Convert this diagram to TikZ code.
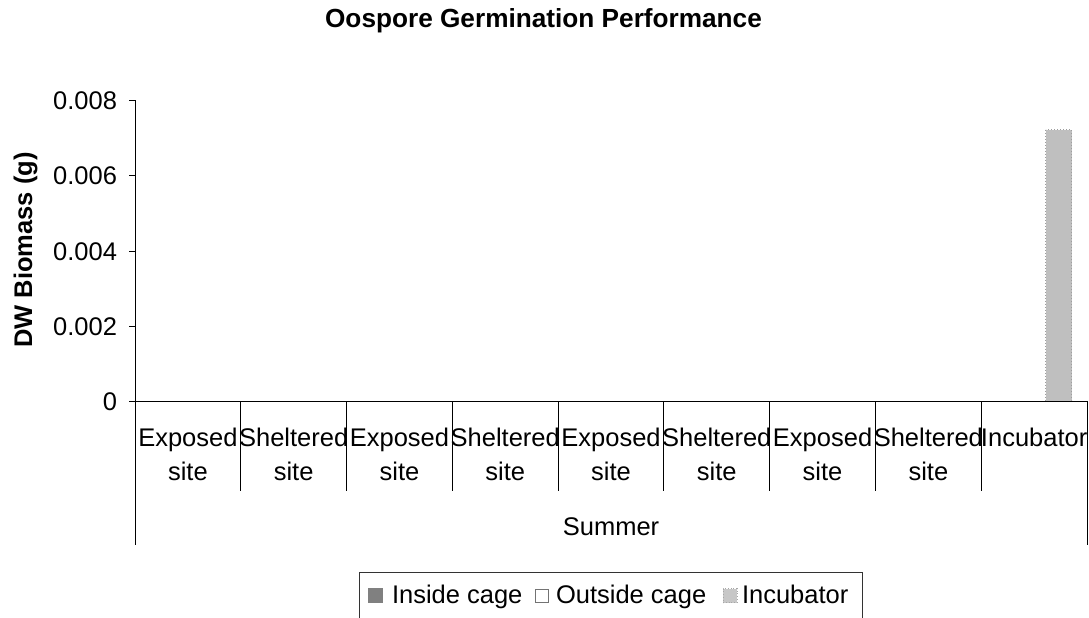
\documentclass[tikz,border=0pt]{standalone}
\usepackage{fontspec}
\setmainfont{Liberation Sans}
\begin{document}
\begin{tikzpicture}[x=1pt,y=-1pt,
  every node/.style={inner sep=0pt, outer sep=0pt},
  lbl/.style={font=\fontsize{25.5}{34}\selectfont},
  axisline/.style={draw=black, line width=1pt},
  barfill/.style={fill=black!25, draw=black!38, line width=1pt, dotted},
  keybox/.style={minimum width=15pt, minimum height=15pt, line width=0.8pt}]
\useasboundingbox (0,0) rectangle (1089,618);
% title
\node[lbl, font=\bfseries\fontsize{26.2}{30}\selectfont, anchor=base] (title) at (543.5,27.5) {Oospore Germination Performance};
% y axis label
\node[lbl, font=\bfseries\fontsize{25.5}{30}\selectfont, rotate=90, anchor=base] (ylab) at (32,250) {DW Biomass (g)};
% axes
\coordinate (o) at (135,401);
\coordinate (ytop) at (135,100);
\coordinate (xend) at (1087,401);
\coordinate (lbot) at (135,545);
\coordinate (rbot) at (1087,545);
\draw[axisline] (ytop) -- (lbot);
\draw[axisline] (o) -- (xend) -- (rbot);
% y ticks
\foreach \v/\yy [count=\i] in {0/401,0.002/326,0.004/251,0.006/175.5,0.008/100}{
  \coordinate (t\i) at (129,\yy);
  \coordinate (u\i) at (135,\yy);
  \draw[axisline] (t\i) -- (u\i);
  \node[lbl, anchor=base east] (tl\i) at (117,\yy+9) {\v};
}
% category labels (two lines: base anchor = last line)
\foreach \i/\txt in {1/{Exposed\\site},2/{Sheltered\\site},3/{Exposed\\site},4/{Sheltered\\site},5/{Exposed\\site},6/{Sheltered\\site},7/{Exposed\\site},8/{Sheltered\\site}}{
  \pgfmathsetmacro{\cx}{135+105.78*(\i-0.5)}
  \node[lbl, align=center, anchor=base] (cat\i) at (\cx,480) {\txt};
}
\node[lbl, anchor=base] (cat9) at (135+105.78*8.5,446) {Incubator};
% category separators
\foreach \i in {1,...,8}{
  \pgfmathsetmacro{\sx}{135+105.78*\i}
  \coordinate (s\i) at (\sx,401);
  \coordinate (e\i) at (\sx,491);
  \draw[axisline] (s\i) -- (e\i);
}
\node[lbl, anchor=base] (summer) at (611,535) {Summer};
% bar
\draw[barfill] (1045.5,129.5) rectangle (1071.5,400.5);
\fill[black!25] (1046.5,130.5) rectangle (1070.5,400.5);
% legend
\node[draw=black!80, line width=0.8pt, minimum width=503pt, minimum height=47pt, anchor=north west] (legend) at (359,572) {};
\node[keybox, fill=black!50, anchor=south west] (k1) at (368,603) {};
\node[lbl, anchor=base west] (l1) at (392,603) {Inside cage};
\node[keybox, draw=black!55, fill=white, anchor=south west, minimum width=13pt, minimum height=13pt] (k2) at (535.5,602) {};
\node[lbl, anchor=base west] (l2) at (556,603) {Outside cage};
\node[keybox, fill=black!22, draw=black!35, dotted, anchor=south west, minimum width=14pt, minimum height=14pt] (k3) at (723,602.5) {};
\node[lbl, anchor=base west] (l3) at (742,603) {Incubator};
\end{tikzpicture}
\end{document}
